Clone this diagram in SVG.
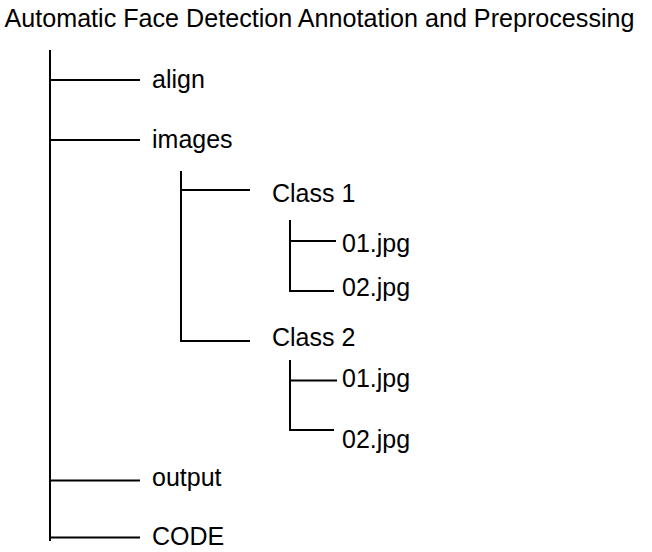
<svg xmlns="http://www.w3.org/2000/svg" width="652" height="552" viewBox="0 0 652 552">
<style>
text{font-family:"Liberation Sans",Arial,sans-serif;font-size:25px;fill:#000}
.c line{stroke:#000;stroke-width:2;stroke-linecap:square}
</style>
<rect width="652" height="552" fill="#fff"/>
<g id="title"><text x="4.5" y="27" textLength="630" lengthAdjust="spacingAndGlyphs">Automatic Face Detection Annotation and Preprocessing</text></g>
<g class="c" id="connectors">
<line x1="50" y1="51" x2="50" y2="540"/>
<line x1="50" y1="80" x2="139" y2="80"/>
<line x1="50" y1="140" x2="139" y2="140"/>
<line x1="50" y1="480.5" x2="139" y2="480.5"/>
<line x1="50" y1="537.5" x2="139" y2="537.5"/>
<line x1="181" y1="172" x2="181" y2="341"/>
<line x1="181" y1="190" x2="249" y2="190"/>
<line x1="181" y1="341" x2="249" y2="341"/>
<line x1="290" y1="221" x2="290" y2="291"/>
<line x1="290" y1="241" x2="335" y2="241"/>
<line x1="290" y1="291" x2="333" y2="291"/>
<line x1="290" y1="361" x2="290" y2="430"/>
<line x1="290" y1="380.5" x2="336" y2="380.5"/>
<line x1="290" y1="430" x2="333" y2="430"/>
</g>
<g id="align"><text x="152" y="88">align</text></g>
<g id="images"><text x="152" y="148">images</text></g>
<g id="class1"><text x="272" y="202">Class 1</text></g>
<g id="c1-01"><text x="342" y="252">01.jpg</text></g>
<g id="c1-02"><text x="342" y="296">02.jpg</text></g>
<g id="class2"><text x="272" y="346">Class 2</text></g>
<g id="c2-01"><text x="342" y="387">01.jpg</text></g>
<g id="c2-02"><text x="342" y="448">02.jpg</text></g>
<g id="output"><text x="152" y="486">output</text></g>
<g id="code"><text x="152" y="545">CODE</text></g>
</svg>
